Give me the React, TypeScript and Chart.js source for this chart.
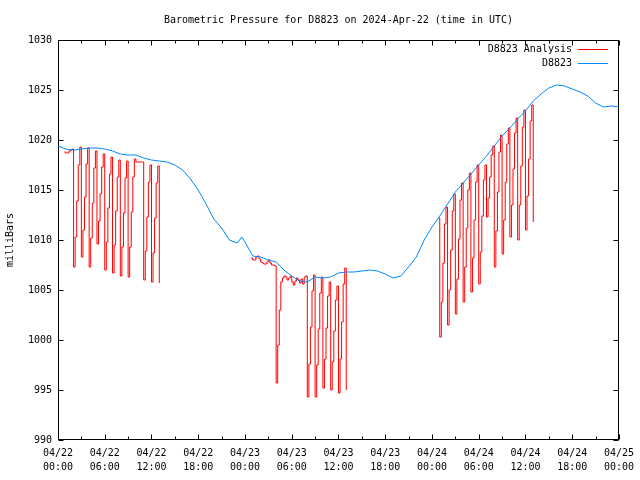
import React, { useEffect, useRef } from 'react';
import { Chart, registerables } from 'chart.js';

Chart.register(...registerables);

const TITLE = 'Barometric Pressure for D8823 on 2024-Apr-22 (time in UTC)';
const Y_TITLE = 'milliBars';
const ANALYSIS_LABEL = 'D8823 Analysis';
const OBS_LABEL = 'D8823';
const ANALYSIS_COLOR = '#ff0000';
const OBS_COLOR = '#0088ff';

// x axis: hours since 04/22 00:00 UTC
const xTickDates = ['04/22', '04/22', '04/22', '04/22', '04/23', '04/23', '04/23', '04/23', '04/24', '04/24', '04/24', '04/24', '04/25'];
const xTickTimes = ['00:00', '06:00', '12:00', '18:00', '00:00', '06:00', '12:00', '18:00', '00:00', '06:00', '12:00', '18:00', '00:00'];
const X_MAJOR_STEP = 6;
const X_MINOR_STEP = 3;
const X_MAX = 72;
const Y_MIN = 990;
const Y_MAX = 1030;
const Y_STEP = 5;

// observed station pressure
const obsHours = [
  0, 1, 2, 3, 4, 5, 6, 7, 8, 9, 10, 11, 12, 13, 14, 15, 16, 17, 18, 19, 20, 21, 22, 23, 23.6,
  24, 25, 26, 27, 28, 29, 30, 31, 32, 33, 34, 35, 36, 37, 38, 39, 40, 41, 42, 43, 44, 45, 46, 47,
  48, 49, 50, 51, 52, 53, 54, 55, 56, 57, 58, 59, 60, 61, 62, 63, 64, 65, 66, 67, 68, 69, 70, 71, 72,
];
const obsValues = [
  1019.4, 1019.1, 1019.0, 1019.1, 1019.2, 1019.2, 1019.1, 1018.9, 1018.6, 1018.5, 1018.5, 1018.2,
  1018.0, 1017.9, 1017.8, 1017.5, 1017.0, 1016.1, 1015.0, 1013.6, 1012.1, 1011.2, 1010.0, 1009.7, 1010.3,
  1009.8, 1008.4, 1008.3, 1008.0, 1007.8, 1007.0, 1006.4, 1005.9, 1005.8, 1006.3, 1006.2, 1006.3,
  1006.7, 1006.8, 1006.8, 1006.9, 1007.0, 1006.9, 1006.6, 1006.2, 1006.4, 1007.3, 1008.3, 1010.0,
  1011.3, 1012.4, 1013.6, 1014.8, 1015.7, 1016.6, 1017.5, 1018.4, 1019.4, 1020.4, 1021.2, 1022.1,
  1022.9, 1023.9, 1024.6, 1025.2, 1025.5, 1025.4, 1025.1, 1024.8, 1024.4, 1023.7, 1023.3, 1023.4, 1023.3,
];

// analysis series, sampled every 0.2 h, in three runs
const ANALYSIS_STEP = 0.2;
const analysis1Start = 0.8;
const analysis1Values = [
  1018.8, 1018.7, 1018.7, 1018.9, 1019.0,
  1019.1, 1007.3, 1010.3, 1013.9, 1017.5,
  1019.3, 1008.3, 1011.0, 1014.3, 1017.6,
  1019.2, 1007.3, 1010.2, 1013.7, 1017.2,
  1018.9, 1009.6, 1011.9, 1014.6, 1017.3,
  1018.6, 1007.0, 1009.8, 1013.2, 1016.6,
  1018.3, 1006.7, 1009.5, 1012.9, 1016.3,
  1018.0, 1006.4, 1009.3, 1012.7, 1016.2,
  1017.9, 1006.3, 1009.3, 1012.8, 1016.3,
  1018.1, 1017.8, 1017.8, 1017.8, 1017.8,
  1017.8, 1006.0, 1008.9, 1012.3, 1015.8,
  1017.5, 1005.8, 1008.7, 1012.2, 1015.7,
  1017.4, 1005.7,
];
const analysis2Start = 24.8;
const analysis2Values = [
  1008.2, 1008.0, 1008.0, 1008.3, 1008.4,
  1008.1, 1007.8, 1007.7, 1007.6, 1007.6,
  1007.8, 1008.0, 1007.7, 1007.5, 1007.5,
  1007.4, 995.7, 999.5, 1003.0, 1005.8,
  1006.2, 1006.4, 1006.3, 1006.0, 1006.2,
  1006.4, 1005.8, 1005.5, 1005.9, 1006.2,
  1006.0, 1005.7, 1006.1, 1005.6, 1006.3,
  1006.4, 994.3, 997.6, 1001.3, 1004.9,
  1006.5, 994.3, 997.5, 1001.1, 1004.7,
  1006.3, 995.2, 998.1, 1001.2, 1004.4,
  1005.8, 995.0, 997.8, 1000.9, 1004.0,
  1005.4, 994.7, 998.1, 1001.8, 1005.6,
  1007.2, 995.0,
];
const analysis3Start = 48.8;
const analysis3Values = [
  1012.2, 1000.3, 1003.8, 1007.7, 1011.6,
  1013.3, 1001.5, 1005.0, 1009.0, 1012.9,
  1014.6, 1002.6, 1006.1, 1010.1, 1014.0,
  1015.7, 1003.8, 1007.3, 1011.2, 1015.0,
  1016.7, 1004.8, 1008.2, 1012.0, 1015.8,
  1017.5, 1005.6, 1008.8, 1012.4, 1016.0,
  1017.5, 1012.3, 1014.2, 1016.3, 1018.5,
  1019.4, 1007.3, 1010.9, 1014.8, 1018.8,
  1020.5, 1008.6, 1012.0, 1015.8, 1019.6,
  1021.2, 1010.3, 1013.5, 1017.1, 1020.7,
  1022.2, 1010.0, 1013.5, 1017.4, 1021.3,
  1023.0, 1011.0, 1014.4, 1018.1, 1021.9,
  1023.5, 1011.8,
];

const FONT_FAMILY = '"DejaVu Sans Mono", "Liberation Mono", monospace';

function buildAnalysisPoints() {
  const runs: [number, number[]][] = [
    [analysis1Start, analysis1Values],
    [analysis2Start, analysis2Values],
    [analysis3Start, analysis3Values],
  ];
  const pts: { x: number; y: number | null }[] = [];
  runs.forEach(([start, vals], ri) => {
    if (ri > 0) pts.push({ x: start - 0.1, y: null });
    vals.forEach((v, i) => pts.push({ x: Math.round((start + i * ANALYSIS_STEP) * 100) / 100, y: v }));
  });
  return pts;
}

const gnuplotFrame = {
  id: 'gnuplotFrame',
  beforeDatasetsDraw(chart: any) {
    const { ctx, chartArea: a, scales } = chart;
    const L = Math.round(a.left) + 0.5;
    const R = Math.round(a.right) - 0.5;
    const T = Math.round(a.top) + 0.5;
    const B = Math.round(a.bottom) - 0.5;
    ctx.save();
    ctx.strokeStyle = '#000';
    ctx.lineWidth = 1;
    ctx.beginPath();
    for (let h = 0; h <= X_MAX; h += X_MINOR_STEP) {
      const px = Math.round(scales.x.getPixelForValue(h)) + 0.5;
      const len = h % X_MAJOR_STEP === 0 ? 5 : 3;
      ctx.moveTo(px, B);
      ctx.lineTo(px, B - len);
      ctx.moveTo(px, T);
      ctx.lineTo(px, T + len);
    }
    for (const t of scales.y.ticks) {
      const py = Math.round(scales.y.getPixelForValue(t.value)) + 0.5;
      ctx.moveTo(L, py);
      ctx.lineTo(L + 5, py);
      ctx.moveTo(R, py);
      ctx.lineTo(R - 5, py);
    }
    ctx.stroke();
    ctx.strokeRect(L, T, R - L, B - T);
    ctx.restore();
  },
  afterDraw(chart: any) {
    const { ctx, chartArea: a } = chart;
    const entries = [
      { label: ANALYSIS_LABEL, color: ANALYSIS_COLOR },
      { label: OBS_LABEL, color: OBS_COLOR },
    ];
    ctx.save();
    ctx.font = `10px ${FONT_FAMILY}`;
    ctx.textAlign = 'right';
    ctx.textBaseline = 'middle';
    entries.forEach((e, i) => {
      const y = Math.round(a.top) + 9 + i * 14;
      ctx.fillStyle = '#000';
      ctx.fillText(e.label, Math.round(a.right) - 47, y);
      ctx.fillStyle = e.color;
      ctx.fillRect(Math.round(a.right) - 41, Math.round(y), 30, 1);
    });
    ctx.restore();
  },
};

export default function App() {
  const canvasRef = useRef<HTMLCanvasElement | null>(null);

  useEffect(() => {
    const canvas = canvasRef.current;
    if (!canvas) return;
    Chart.defaults.font.family = FONT_FAMILY;
    Chart.defaults.font.size = 10;
    Chart.defaults.color = '#000';

    const chart = new Chart(canvas, {
      type: 'line',
      data: {
        datasets: [
          {
            label: OBS_LABEL,
            data: obsHours.map((h, i) => ({ x: h, y: obsValues[i] })),
            borderColor: OBS_COLOR,
            borderWidth: 1,
            pointRadius: 0,
            tension: 0,
            fill: false,
            order: 0,
          },
          {
            label: ANALYSIS_LABEL,
            data: buildAnalysisPoints(),
            borderColor: ANALYSIS_COLOR,
            borderWidth: 1,
            pointRadius: 0,
            tension: 0,
            stepped: 'before',
            fill: false,
            spanGaps: false,
            order: 1,
          },
        ],
      },
      options: {
        animation: false,
        responsive: false,
        devicePixelRatio: 1,
        layout: { padding: { left: 0, right: 19, top: 0, bottom: 0 } },
        plugins: {
          legend: { display: false },
          tooltip: { enabled: false },
          title: {
            display: true,
            text: TITLE,
            fullSize: false,
            color: '#000',
            font: { size: 10, weight: 'normal', family: FONT_FAMILY },
            padding: { top: 14, bottom: 14 },
          },
        },
        scales: {
          x: {
            type: 'linear',
            min: 0,
            max: X_MAX,
            grid: { display: false, drawTicks: false, tickLength: 0 },
            border: { display: false },
            afterFit: (s: any) => { s.height = 40; },
            ticks: {
              stepSize: X_MAJOR_STEP,
              autoSkip: false,
              maxRotation: 0,
              minRotation: 0,
              padding: 6,
              color: '#000',
              font: { size: 10, lineHeight: 1.4, family: FONT_FAMILY },
              callback: (v: any) => {
                const i = Math.round(Number(v) / X_MAJOR_STEP);
                return [xTickDates[i], xTickTimes[i]];
              },
            },
          },
          y: {
            min: Y_MIN,
            max: Y_MAX,
            grid: { display: false, drawTicks: false, tickLength: 0 },
            border: { display: false },
            afterFit: (s: any) => { s.width = 58; },
            title: {
              display: true,
              text: Y_TITLE,
              color: '#000',
              font: { size: 10, family: FONT_FAMILY },
              padding: { top: 4, bottom: 0 },
            },
            ticks: {
              stepSize: Y_STEP,
              padding: 6,
              color: '#000',
              font: { size: 10, family: FONT_FAMILY },
              callback: (v: any) => String(v),
            },
          },
        },
      },
      plugins: [gnuplotFrame],
    } as any);
    return () => chart.destroy();
  }, []);

  return (
    <div style={{ position: 'fixed', left: 0, top: 0, width: 640, height: 480, background: '#fff' }}>
      <canvas ref={canvasRef} width={640} height={480} style={{ width: 640, height: 480, display: 'block' }} />
    </div>
  );
}
